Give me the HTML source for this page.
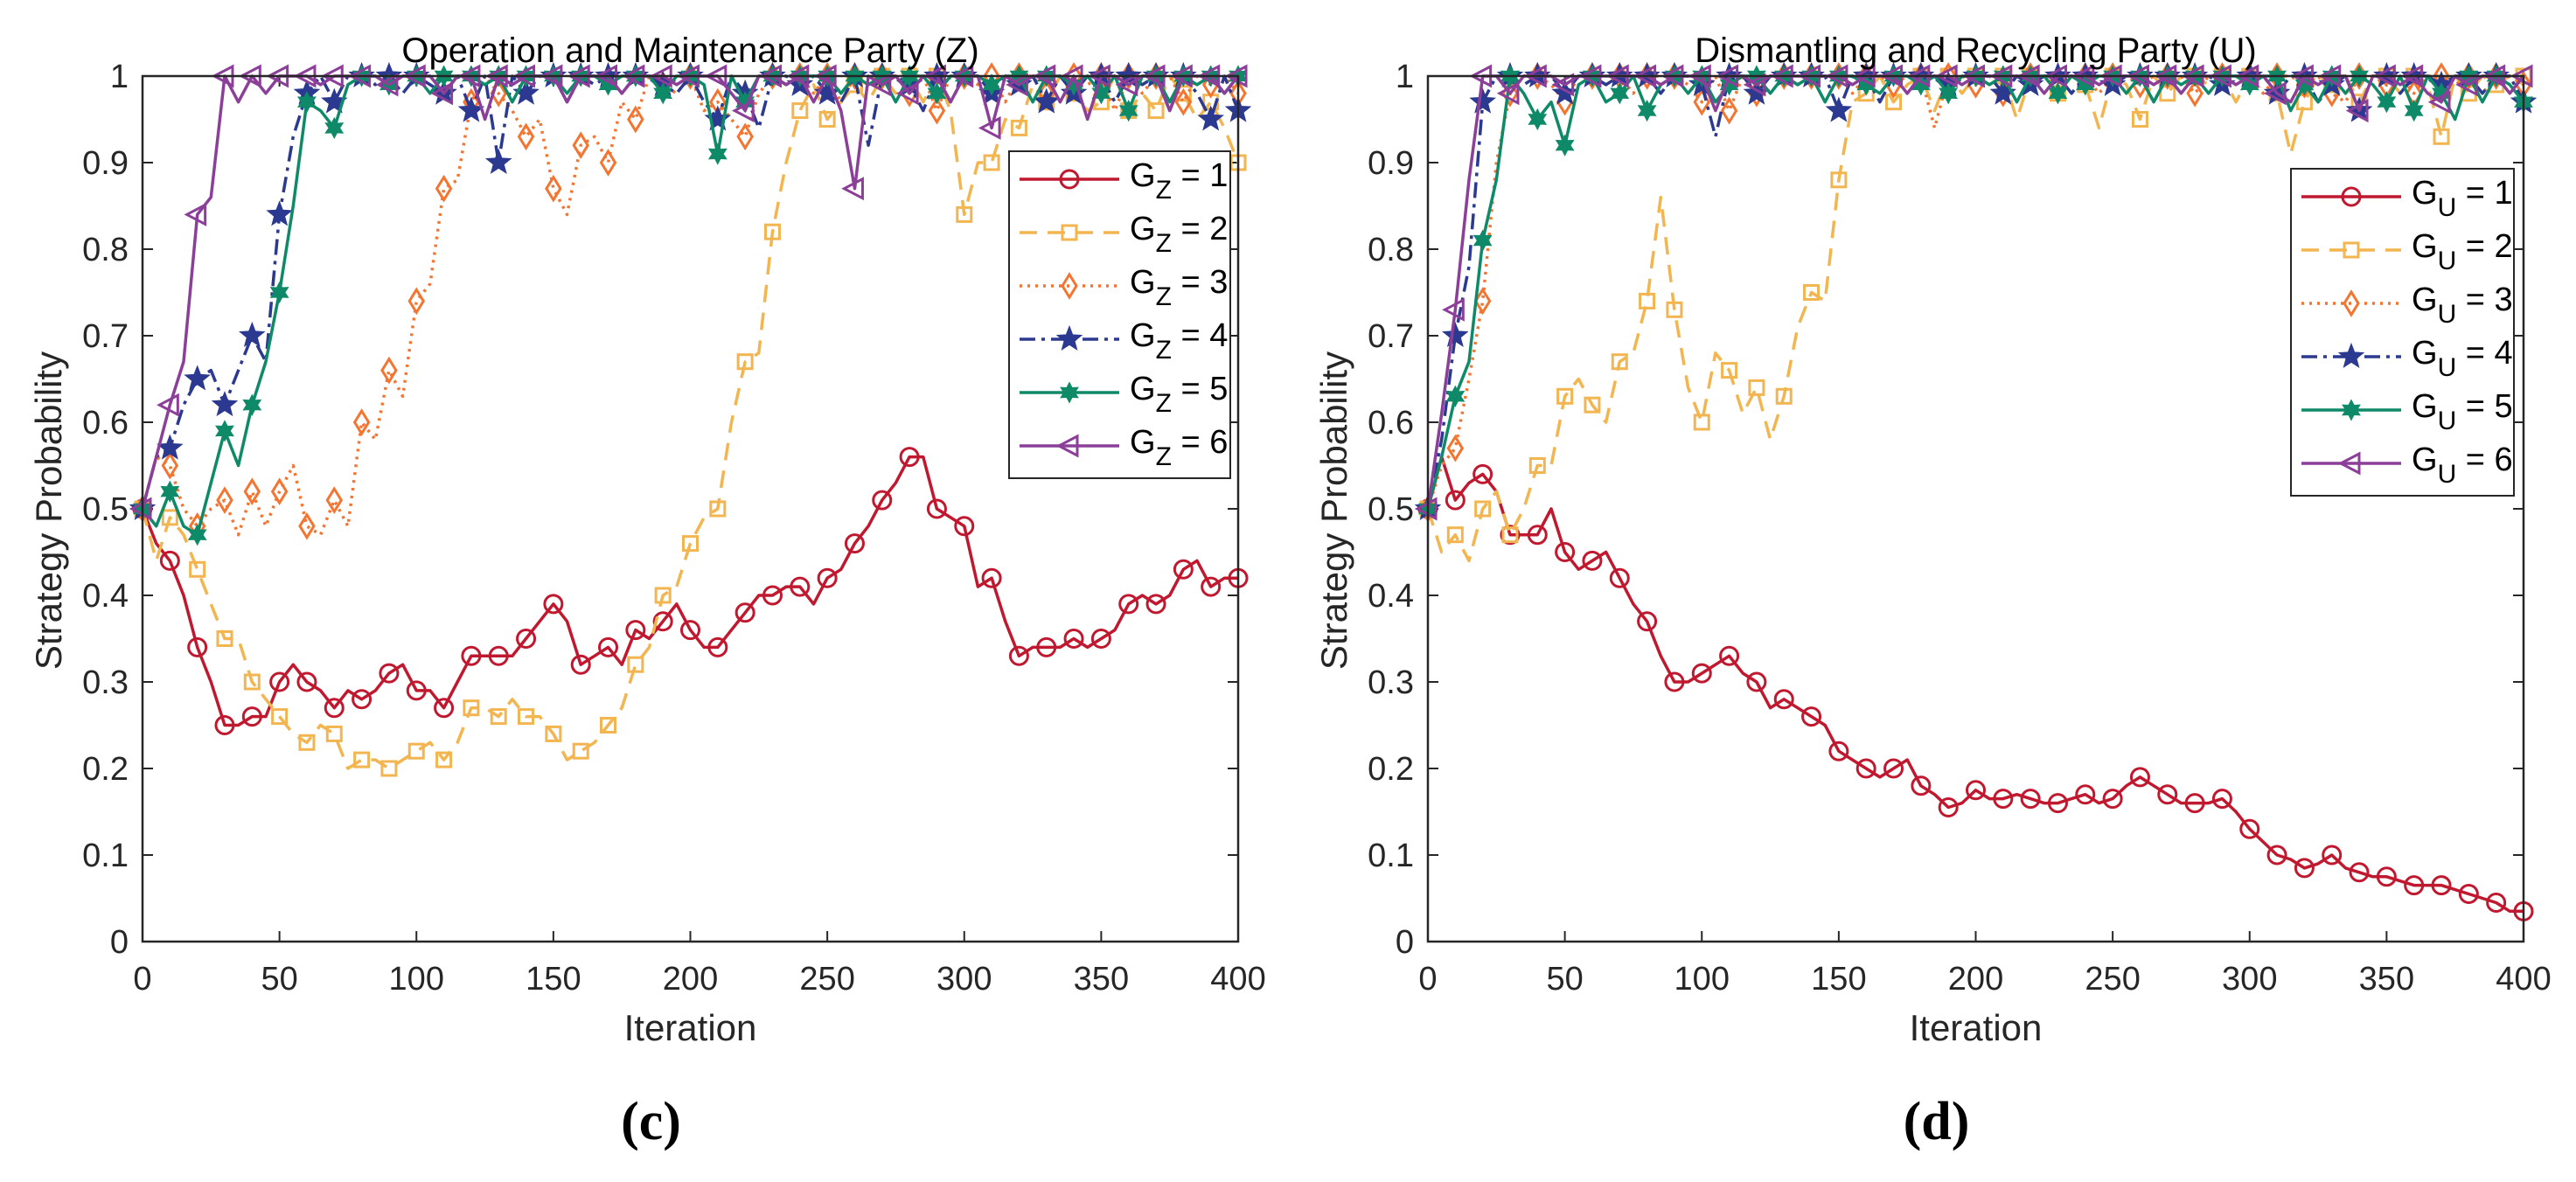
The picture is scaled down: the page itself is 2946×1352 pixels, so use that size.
<!DOCTYPE html>
<html><head><meta charset="utf-8">
<style>
html,body{margin:0;padding:0;background:#fff;overflow:hidden;}
svg{display:block;font-family:"Liberation Sans",sans-serif;}
</style></head>
<body>
<svg id="fig" width="2946" height="1352" viewBox="0 0 2946 1352" xmlns="http://www.w3.org/2000/svg"></svg>
<script>
// ---- data (sampled every 5 iterations, 0..400) ----
const xTicks = [0,50,100,150,200,250,300,350,400];
const yTicks = [0,0.1,0.2,0.3,0.4,0.5,0.6,0.7,0.8,0.9,1];
const yTickLabels = ["0","0.1","0.2","0.3","0.4","0.5","0.6","0.7","0.8","0.9","1"];
const seriesLabels = ["1","2","3","4","5","6"];

const cG1 = [0.5,0.46,0.44,0.40,0.34,0.30,0.25,0.25,0.26,0.26,0.30,0.32,0.30,0.29,0.27,0.29,0.28,0.29,0.31,0.32,0.29,0.29,0.27,0.30,0.33,0.33,0.33,0.33,0.35,0.37,0.39,0.37,0.32,0.33,0.34,0.32,0.36,0.35,0.37,0.39,0.36,0.34,0.34,0.36,0.38,0.40,0.40,0.41,0.41,0.39,0.42,0.43,0.46,0.48,0.51,0.53,0.56,0.56,0.50,0.49,0.48,0.41,0.42,0.37,0.33,0.34,0.34,0.34,0.35,0.34,0.35,0.36,0.39,0.40,0.39,0.40,0.43,0.44,0.41,0.42,0.42];
const cG2 = [0.5,0.44,0.49,0.47,0.43,0.39,0.35,0.35,0.30,0.28,0.26,0.24,0.23,0.25,0.24,0.20,0.21,0.21,0.20,0.21,0.22,0.23,0.21,0.23,0.27,0.27,0.26,0.28,0.26,0.26,0.24,0.21,0.22,0.23,0.25,0.27,0.32,0.34,0.40,0.41,0.46,0.49,0.50,0.60,0.67,0.68,0.82,0.90,0.96,0.99,0.95,0.97,0.99,0.97,1,0.98,1,0.97,1,0.96,0.84,0.90,0.90,0.95,0.94,0.99,0.97,1,0.98,0.96,0.97,1,0.96,0.98,0.96,1,0.98,0.95,0.97,0.94,0.90];
const cG3 = [0.5,0.56,0.55,0.50,0.48,0.50,0.51,0.47,0.52,0.48,0.52,0.55,0.48,0.47,0.51,0.48,0.60,0.58,0.66,0.63,0.74,0.76,0.87,0.88,0.97,1,0.98,0.96,0.93,0.95,0.87,0.84,0.92,0.93,0.90,0.97,0.95,1,0.99,0.98,1,0.96,0.97,0.95,0.93,0.98,1,0.99,1,0.98,1,0.97,1,0.99,1,1,0.98,1,0.96,1,1,0.99,1,0.97,1,1,0.98,1,1,0.99,1,0.96,1,0.98,1,1,0.97,1,0.99,1,0.98];
const cG4 = [0.5,0.56,0.57,0.62,0.65,0.66,0.62,0.66,0.70,0.67,0.84,0.93,0.98,1,0.97,1,1,0.99,1,0.98,1,0.99,0.98,1,0.96,1,0.90,1,0.98,1,1,0.97,1,0.99,1,0.98,1,1,0.99,0.98,1,0.97,0.95,1,0.98,0.94,1,1,0.99,1,0.98,0.97,1,0.92,1,1,0.99,0.96,1,0.97,1,1,0.98,1,0.99,1,0.97,1,0.98,1,1,0.97,1,0.99,1,0.96,1,0.98,0.95,1,0.96];
const cG5 = [0.5,0.48,0.52,0.48,0.47,0.53,0.59,0.55,0.62,0.67,0.75,0.85,0.97,0.96,0.94,0.99,1,1,0.99,1,1,0.98,1,1,1,0.99,1,0.97,1,1,1,0.98,1,1,0.99,1,1,1,0.98,1,1,0.99,0.91,1,0.97,1,1,0.99,1,1,1,0.98,1,0.99,1,0.97,1,1,0.98,1,1,1,0.99,1,1,0.97,1,1,0.99,1,0.98,1,0.96,1,1,0.97,1,0.99,1,0.98,1];
const cG6 = [0.5,0.56,0.62,0.67,0.84,0.86,1,0.97,1,0.98,1,1,1,0.99,1,1,1,1,0.99,1,1,1,0.98,1,1,0.95,1,0.99,1,1,1,0.97,1,1,1,0.98,1,1,1,0.99,1,1,1,0.98,0.96,1,1,0.99,1,0.97,1,0.96,0.87,1,0.99,1,0.98,1,1,0.97,1,1,0.94,1,0.99,1,1,0.97,1,0.95,1,1,0.99,1,1,0.96,1,1,1,0.98,1];

const dG1 = [0.5,0.56,0.51,0.53,0.54,0.52,0.47,0.47,0.47,0.50,0.45,0.43,0.44,0.45,0.42,0.39,0.37,0.33,0.30,0.30,0.31,0.32,0.33,0.31,0.30,0.27,0.28,0.27,0.26,0.25,0.22,0.21,0.20,0.19,0.20,0.21,0.18,0.17,0.155,0.16,0.175,0.165,0.165,0.17,0.165,0.16,0.16,0.165,0.17,0.16,0.165,0.18,0.19,0.18,0.17,0.16,0.16,0.16,0.165,0.15,0.13,0.115,0.10,0.095,0.085,0.09,0.10,0.085,0.08,0.075,0.075,0.07,0.065,0.065,0.065,0.06,0.055,0.05,0.045,0.035,0.035];
const dG2 = [0.5,0.45,0.47,0.44,0.50,0.52,0.47,0.50,0.55,0.55,0.63,0.65,0.62,0.60,0.67,0.68,0.74,0.86,0.73,0.64,0.60,0.68,0.66,0.61,0.64,0.58,0.63,0.71,0.75,0.74,0.88,0.97,0.98,1,0.97,0.99,1,0.96,1,0.98,1,0.99,1,0.95,1,1,0.98,1,0.99,0.94,1,0.99,0.95,1,0.98,1,1,0.99,1,0.97,1,1,0.98,0.91,0.97,1,0.99,1,0.97,1,1,0.98,1,0.99,0.93,1,0.98,1,0.99,1,1];
const dG3 = [0.5,0.55,0.57,0.65,0.74,0.90,0.98,1,1,0.99,0.97,1,1,0.99,1,0.98,1,1,1,0.99,0.97,1,0.96,1,0.98,1,1,0.99,1,1,1,0.98,1,1,0.99,1,1,0.94,1,1,0.99,1,0.98,1,1,1,0.99,1,1,0.98,1,1,0.99,1,1,1,0.98,1,1,0.99,1,0.98,1,1,0.99,1,0.98,0.97,1,1,0.99,1,0.98,1,1,0.99,1,0.98,1,1,0.99];
const dG4 = [0.5,0.58,0.70,0.78,0.97,1,1,0.99,1,1,0.98,1,1,0.99,1,1,1,0.98,1,1,0.99,0.93,1,1,0.98,1,1,0.99,1,1,0.96,1,1,0.97,1,0.98,1,1,0.99,1,1,1,0.98,1,0.99,1,1,0.98,1,1,0.99,1,1,0.97,1,0.98,1,1,0.99,1,1,1,0.98,1,1,0.97,0.99,1,0.96,1,1,0.98,1,1,0.99,1,1,0.98,1,1,0.97];
const dG5 = [0.5,0.56,0.63,0.67,0.81,0.88,1,0.98,0.95,0.97,0.92,0.99,1,0.97,0.98,1,0.96,0.99,1,0.98,1,0.97,0.99,1,1,0.98,1,0.99,1,0.97,1,1,0.99,0.98,1,1,0.99,1,0.98,1,1,0.99,1,0.97,1,1,0.98,1,0.99,1,1,0.98,1,0.97,1,0.99,1,0.98,1,1,0.99,1,1,0.96,0.99,0.97,1,0.98,1,0.99,0.97,1,0.96,1,0.98,0.95,1,0.97,1,0.99,0.97];
const dG6 = [0.5,0.61,0.73,0.88,1,1,0.98,1,1,1,0.99,1,1,1,1,1,1,0.99,1,1,1,0.96,1,1,0.99,1,1,1,1,1,1,0.99,1,1,1,0.98,1,1,1,0.99,1,1,1,1,1,0.98,1,1,1,0.99,1,1,1,0.99,1,0.98,1,1,1,0.99,1,1,0.98,0.97,1,0.99,1,1,0.96,1,1,0.99,1,0.98,0.97,1,0.99,1,1,0.98,1];

// ---- rendering ----
const NS="http://www.w3.org/2000/svg";
const svg=document.getElementById('fig');
function mk(tag,attrs,parent){const e=document.createElementNS(NS,tag);for(const k in attrs)e.setAttribute(k,attrs[k]);(parent||svg).appendChild(e);return e;}

const styles=[
 {color:"#c0182f",dash:"",marker:"circle"},
 {color:"#f2b550",dash:"20 12",marker:"square"},
 {color:"#f47430",dash:"3 6",marker:"diamond"},
 {color:"#2b3990",dash:"18 7 4 7",marker:"star5"},
 {color:"#0f8a68",dash:"",marker:"star6"},
 {color:"#8c3f98",dash:"",marker:"tri"}
];

function starPts(cx,cy,n,ro,ri,rot){let p=[];for(let i=0;i<2*n;i++){const r=i%2?ri:ro;const a=rot+i*Math.PI/n;p.push((cx+r*Math.cos(a)).toFixed(1)+","+(cy+r*Math.sin(a)).toFixed(1));}return p.join(" ");}
function marker(g,type,cx,cy,color){
  let e;
  if(type==="circle") e=mk('circle',{cx,cy,r:10,fill:"none",stroke:color,"stroke-width":3},g);
  else if(type==="square") e=mk('rect',{x:cx-8,y:cy-8,width:16,height:16,fill:"none",stroke:color,"stroke-width":3},g);
  else if(type==="diamond") e=mk('polygon',{points:`${cx},${cy-13} ${cx+8},${cy} ${cx},${cy+13} ${cx-8},${cy}`,fill:"none",stroke:color,"stroke-width":3},g);
  else if(type==="star5") e=mk('polygon',{points:starPts(cx,cy,5,14,6,-Math.PI/2),fill:color,stroke:color,"stroke-width":1.5},g);
  else if(type==="star6") e=mk('polygon',{points:starPts(cx,cy,6,11,6,-Math.PI/2),fill:color,stroke:color,"stroke-width":1.5},g);
  else e=mk('polygon',{points:`${cx-12},${cy} ${cx+9},${cy-11} ${cx+9},${cy+11}`,fill:"none",stroke:color,"stroke-width":3},g);
  
  
}

function chart(cfg){
  const L=cfg.left,R=cfg.right,T=87,B=1077;
  const xs=v=>L+(v/400)*(R-L);
  const ys=v=>B-v*(B-T);
  const g=mk('g',{});
  
  
  xTicks.forEach(t=>{
    const x=xs(t);
    mk('line',{x1:x,y1:B,x2:x,y2:B-12,stroke:"#262626","stroke-width":2},g);
    mk('line',{x1:x,y1:T,x2:x,y2:T+12,stroke:"#262626","stroke-width":2},g);
    const tx=mk('text',{x:x,y:1132,"text-anchor":"middle","font-size":38,fill:"#262626"},g);
    tx.textContent=t;
    
    
  });
  yTicks.forEach((t,i)=>{
    const y=ys(t);
    mk('line',{x1:L,y1:y,x2:L+12,y2:y,stroke:"#262626","stroke-width":2},g);
    mk('line',{x1:R,y1:y,x2:R-12,y2:y,stroke:"#262626","stroke-width":2},g);
    const ty=mk('text',{x:L-16,y:y+13,"text-anchor":"end","font-size":38,fill:"#262626"},g);
    ty.textContent=yTickLabels[i];
    
    
  });
  cfg.series.forEach((arr,si)=>{
    const st=styles[si];
    const sg=mk('g',{},g);
    
    
    const step=400/(arr.length-1);
    let d="";
    arr.forEach((v,i)=>{d+=(i?"L":"M")+xs(i*step).toFixed(1)+","+ys(v).toFixed(1);});
    const p=mk('path',{d,fill:"none",stroke:st.color,"stroke-width":3.5,"stroke-dasharray":st.dash,"stroke-linejoin":"round"},sg);
    
    
    arr.forEach((v,i)=>{if(i%2===0)marker(sg,st.marker,xs(i*step),ys(v),st.color);});
  });
  const fr=mk('rect',{x:L,y:T,width:R-L,height:B-T,fill:"none",stroke:"#262626","stroke-width":2.5},g);
  
  
  const ti=mk('text',{x:(L+R)/2,y:71,"text-anchor":"middle","font-size":40,fill:"#000"},g);
  ti.textContent=cfg.title;
  
  
  const xl=mk('text',{x:(L+R)/2,y:1190,"text-anchor":"middle","font-size":42,fill:"#262626"},g);
  xl.textContent="Iteration";
  
  
  const yl=mk('text',{x:0,y:0,"text-anchor":"middle","font-size":42,fill:"#262626",transform:`translate(${cfg.ylx},584) rotate(-90)`},g);
  yl.textContent="Strategy Probability";
  
  
  const pl=mk('text',{x:(L+R)/2-45,y:1303,"text-anchor":"middle","font-size":62,"font-weight":"bold","font-family":"Liberation Serif, serif",fill:"#000"},g);
  pl.textContent=cfg.panel;
  
  
  const lg=mk('g',{},g);
  
  
  const lb=mk('rect',{x:cfg.lx,y:cfg.ly,width:cfg.lw,height:374,fill:"#fff",stroke:"#262626","stroke-width":2},lg);
  
  
  seriesLabels.forEach((s,i)=>{
    const st=styles[i];
    const cy=cfg.ly+32+i*61;
    const eg=mk('g',{},lg);
    
    
    mk('line',{x1:cfg.lx+12,y1:cy,x2:cfg.lx+126,y2:cy,stroke:st.color,"stroke-width":3.5,"stroke-dasharray":st.dash},eg);
    marker(eg,st.marker,cfg.lx+69,cy,st.color);
    const t=mk('text',{x:cfg.lx+138,y:cy+8,"font-size":38,fill:"#000"},eg);
    t.innerHTML=`G<tspan dy="14" font-size="30">${cfg.sub}</tspan><tspan dy="-14"> = ${s}</tspan>`;
  });
}

chart({name:"chart-operation-maintenance",left:163,right:1416,ylx:70,title:"Operation and Maintenance Party (Z)",panel:"(c)",sub:"Z",
  series:[cG1,cG2,cG3,cG4,cG5,cG6],lx:1154,ly:173,lw:253});
chart({name:"chart-dismantling-recycling",left:1633,right:2886,ylx:1540,title:"Dismantling and Recycling Party (U)",panel:"(d)",sub:"U",
  series:[dG1,dG2,dG3,dG4,dG5,dG6],lx:2620,ly:193,lw:255});
</script>
</body></html>
